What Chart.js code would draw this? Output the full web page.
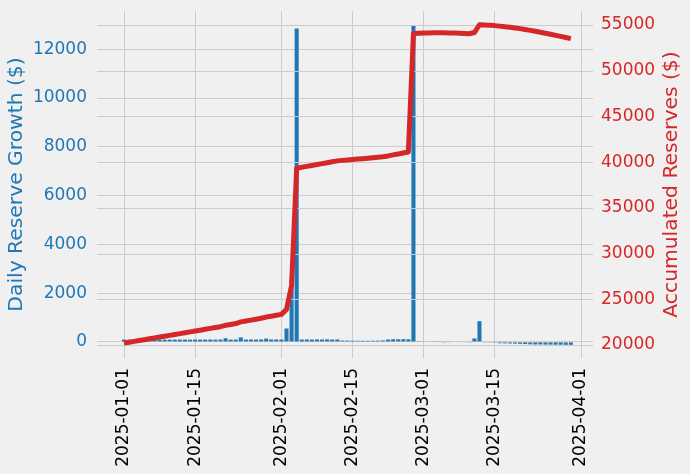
<!DOCTYPE html>
<html>
<head>
<meta charset="utf-8">
<script src="https://cdn.jsdelivr.net/npm/chart.js@4"></script>
<style>
  html, body { margin: 0; padding: 0; background: #f0f0f0; }
  canvas { display: block; }
</style>
</head>
<body>
<canvas id="reserveChart" width="690" height="474"></canvas>
<script>
// day 0 = 2025-01-01
const tickDays = [0, 14, 31, 45, 59, 73, 90];
const tickLabels = ['2025-01-01', '2025-01-15', '2025-02-01', '2025-02-15', '2025-03-01', '2025-03-15', '2025-04-01'];
const leftTicks = [0, 2000, 4000, 6000, 8000, 10000, 12000];
const rightTicks = [20000, 25000, 30000, 35000, 40000, 45000, 50000, 55000];

const dailyGrowth = [
    // Jan
    95, 92, 94, 96, 93, 95, 94, 96, 93, 95, 94, 96, 95, 93, 96, 94, 95, 97, 94, 96,
    150, 94, 97, 185, 96, 98, 97, 99, 135, 98, 100,
    // Feb
    95, 550, 2600, 12850, 98, 102, 97, 101, 99, 103, 98, 100, 55, 52, 48, 45, 44, 46,
    48, 50, 60, 95, 110, 105, 110, 108, 12950, 30,
    // Mar
    25, 20, 15, 10, -10, -15, -20, -20, -25, -30, 140, 850, -30, -30, -35, -55, -60,
    -65, -70, -80, -90, -100, -105, -105, -110, -110, -115, -115, -120, -120
];

const accumulated = [
    // Jan
    20200, 20292, 20386, 20482, 20575, 20670, 20764, 20860, 20953, 21048, 21142, 21238,
    21333, 21426, 21522, 21616, 21711, 21808, 21902, 21998, 22148, 22242, 22339, 22524,
    22620, 22718, 22815, 22914, 23049, 23147, 23247,
    // Feb
    23342, 23892, 26492, 39342, 39440, 39542, 39639, 39740, 39839, 39942, 40040, 40140,
    40195, 40247, 40295, 40340, 40384, 40430, 40478, 40528, 40588, 40683, 40793, 40898,
    41008, 41116, 54066, 54096,
    // Mar
    54121, 54141, 54156, 54166, 54156, 54141, 54121, 54101, 54076, 54046, 54186, 55036,
    55006, 54976, 54941, 54886, 54826, 54761, 54691, 54611, 54521, 54421, 54316, 54211,
    54101, 53991, 53876, 53761, 53641, 53521
];

const blue = '#1f77b4';
const red = '#d62728';
const gridColor = '#cbcbcb';
const font = 'DejaVu Sans';

// twin axis grid sits above the bars but under the line, like matplotlib's twinx
const twinGrid = {
    id: 'twinGrid',
    afterDatasetDraw(chart, args) {
        if (args.index !== 0) return;
        const ctx = chart.ctx;
        const area = chart.chartArea;
        const scale = chart.scales.y1;
        ctx.save();
        ctx.strokeStyle = gridColor;
        ctx.lineWidth = 1;
        scale.ticks.forEach(t => {
            const y = Math.round(scale.getPixelForValue(t.value)) + 0.5;
            ctx.beginPath();
            ctx.moveTo(area.left, y);
            ctx.lineTo(area.right, y);
            ctx.stroke();
        });
        ctx.restore();
    }
};

const rightTitle = {
    id: 'rightTitle',
    afterDraw(chart) {
        const ctx = chart.ctx;
        const area = chart.chartArea;
        ctx.save();
        ctx.translate(672, (area.top + area.bottom) / 2);
        ctx.rotate(-Math.PI / 2);
        ctx.textAlign = 'center';
        ctx.textBaseline = 'middle';
        ctx.font = '20.3px "' + font + '"';
        ctx.fillStyle = red;
        ctx.fillText('Accumulated Reserves ($)', 0, 0);
        ctx.restore();
    }
};

function fitSide(scale) {
    scale.width = 97;
    scale.paddingTop = 0;
    scale.paddingBottom = 0;
}

const ctx = document.getElementById('reserveChart').getContext('2d');
const chart = new Chart(ctx, {
    type: 'bar',
    data: {
        datasets: [{
            type: 'bar',
            label: 'Daily Reserve Growth',
            data: dailyGrowth.map((v, i) => ({ x: i, y: v })),
            backgroundColor: blue,
            borderWidth: 0,
            barPercentage: 1,
            categoryPercentage: 0.8,
            yAxisID: 'y',
            order: 1
        }, {
            type: 'line',
            label: 'Accumulated Reserves',
            data: accumulated.map((v, i) => ({ x: i, y: v })),
            borderColor: red,
            borderWidth: 5,
            borderCapStyle: 'butt',
            borderJoinStyle: 'round',
            pointRadius: 0,
            tension: 0,
            fill: false,
            yAxisID: 'y1',
            order: 0
        }]
    },
    options: {
        responsive: false,
        animation: false,
        devicePixelRatio: 1,
        layout: { padding: { top: 11, left: 0, right: 0, bottom: 0 } },
        plugins: {
            legend: { display: false },
            tooltip: { enabled: false }
        },
        scales: {
            x: {
                type: 'linear',
                min: -5.32,
                max: 92.36,
                offset: false,
                grid: { color: gridColor, lineWidth: 1, drawTicks: false, offset: false },
                border: { display: false },
                afterBuildTicks: scale => { scale.ticks = tickDays.map(v => ({ value: v })); },
                afterFit: scale => { scale.height = 116; },
                ticks: {
                    autoSkip: false,
                    minRotation: 90,
                    maxRotation: 90,
                    padding: 10,
                    color: '#000000',
                    font: { family: font, size: 17 },
                    callback: (value) => tickLabels[tickDays.indexOf(value)]
                }
            },
            y: {
                position: 'left',
                min: -660,
                max: 13570,
                grid: { color: gridColor, lineWidth: 1, drawTicks: false },
                border: { display: false },
                afterBuildTicks: scale => { scale.ticks = leftTicks.map(v => ({ value: v })); },
                afterFit: fitSide,
                ticks: {
                    padding: 10,
                    color: blue,
                    font: { family: font, size: 17 },
                    callback: v => String(v)
                },
                title: {
                    display: true,
                    text: 'Daily Reserve Growth ($)',
                    color: blue,
                    font: { family: font, size: 20.3 },
                    padding: { top: 5, bottom: 0 }
                }
            },
            y1: {
                position: 'right',
                min: 18570,
                max: 56540,
                grid: { display: false, drawTicks: false },
                border: { display: false },
                afterBuildTicks: scale => { scale.ticks = rightTicks.map(v => ({ value: v })); },
                afterFit: fitSide,
                ticks: {
                    padding: 8,
                    color: red,
                    font: { family: font, size: 17 },
                    callback: v => String(v)
                }
            }
        }
    },
    plugins: [twinGrid, rightTitle]
});
</script>
</body>
</html>
